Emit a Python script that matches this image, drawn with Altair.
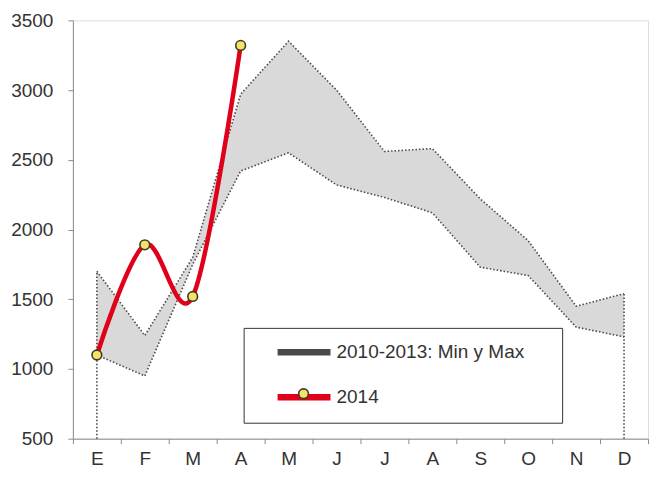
import json
import altair as alt
import pandas as pd

# ---------------- data ----------------
months = ["E", "F", "M", "A", "M", "J", "J", "A", "S", "O", "N", "D"]
band_max = [1700, 1240, 1800, 2970, 3350, 3000, 2560, 2580, 2220, 1920, 1450, 1540]
band_min = [1100, 950, 1750, 2420, 2550, 2320, 2230, 2120, 1730, 1670, 1300, 1230]
values_2014 = [1100, 1890, 1520, 3320]
label_band = "2010-2013: Min y Max"
label_2014 = "2014"
y_ticks = [500, 1000, 1500, 2000, 2500, 3000, 3500]

idx = list(range(len(months)))
band_df = pd.DataFrame({"i": idx, "lo": band_min, "hi": band_max})
border_df = pd.concat([
    pd.DataFrame({"i": idx, "v": band_max, "which": "max", "serie": label_band}),
    pd.DataFrame({"i": idx, "v": band_min, "which": "min", "serie": label_band}),
])
edge_df = pd.DataFrame({
    "i": [idx[0], idx[-1]],
    "floor": [y_ticks[0], y_ticks[0]],
    "top": [band_max[0], band_max[-1]],
})
line_df = pd.DataFrame({"i": idx[:len(values_2014)], "v": values_2014, "serie": label_2014})

FONT = "Liberation Sans"
AXIS_COLOR = "#8c8c8c"
TEXT_COLOR = "#333333"

x_enc = alt.X(
    "i:O",
    bandPosition=0.5,
    scale=alt.Scale(type="band", domain=idx, paddingInner=0, paddingOuter=0),
    axis=alt.Axis(
        title=None,
        labelExpr=json.dumps(months) + "[datum.value]",
        labelAngle=0,
        tickBand="extent",
        tickSize=5,
        labelPadding=6,
        grid=False,
        domainColor=AXIS_COLOR,
        tickColor=AXIS_COLOR,
        labelFontSize=19,
        labelColor=TEXT_COLOR,
        labelFont=FONT,
    ),
)
y_scale = alt.Scale(domain=[y_ticks[0], y_ticks[-1]], nice=False, zero=False)
y_axis = alt.Axis(
    title=None,
    values=y_ticks,
    format="d",
    grid=False,
    tickSize=5,
    labelPadding=15,
    domainColor=AXIS_COLOR,
    tickColor=AXIS_COLOR,
    labelFontSize=19,
    labelColor=TEXT_COLOR,
    labelFont=FONT,
)

color_scale = alt.Scale(domain=[label_band, label_2014], range=["#4a4a4a", "#e0001a"])
color_legend = alt.Legend(
    title="\u00a0",
    titleOrient="right",
    titlePadding=26,
    titleFontSize=19,
    orient="none",
    legendX=171,
    legendY=308,
    strokeColor="#333333",
    fillColor="white",
    padding=12,
    rowPadding=18,
    symbolType="M-3,0L3,0",
    symbolSize=312,
    symbolStrokeWidth=6.5,
    symbolDash=[1, 0],
    symbolOpacity=1,
    symbolOffset=36,
    labelOffset=20,
    labelLimit=400,
    labelFont=FONT,
    labelFontSize=19,
    labelColor=TEXT_COLOR,
)

area = alt.Chart(band_df).mark_area(color="#d9d9d9", opacity=1).encode(
    x=x_enc,
    y=alt.Y("hi:Q", scale=y_scale, axis=y_axis),
    y2="lo:Q",
)

borders = alt.Chart(border_df).mark_line(strokeDash=[1.5, 2], strokeWidth=1.6).encode(
    x=x_enc,
    y=alt.Y("v:Q", scale=y_scale, axis=y_axis),
    detail="which:N",
    color=alt.Color("serie:N", scale=color_scale, legend=color_legend),
)

edges = alt.Chart(edge_df).mark_rule(strokeDash=[1.5, 2], strokeWidth=1.6, color="#4a4a4a").encode(
    x=x_enc,
    y=alt.Y("floor:Q", scale=y_scale, axis=y_axis),
    y2="top:Q",
)

red = alt.Chart(line_df).mark_line(interpolate="cardinal", strokeWidth=4.5).encode(
    x=x_enc,
    y=alt.Y("v:Q", scale=y_scale, axis=y_axis),
    color=alt.Color("serie:N", scale=color_scale, legend=color_legend),
)

pts = alt.Chart(line_df).mark_point(filled=True, size=95, stroke="#3d3d1f", strokeWidth=1.6, opacity=1).encode(
    x=x_enc,
    y=alt.Y("v:Q", scale=y_scale, axis=y_axis),
    fill=alt.Fill(
        "serie:N",
        scale=alt.Scale(domain=[label_2014], range=["#f4e36b"]),
        legend=alt.Legend(
            title=None,
            orient="none",
            legendX=225,
            legendY=368,
            padding=0,
            symbolType="circle",
            symbolSize=95,
            symbolStrokeColor="#3d3d1f",
            symbolStrokeWidth=1.6,
            labelExpr="''",
            labelFontSize=1,
        ),
    ),
)

chart = alt.layer(area, borders, edges, red, pts).properties(
    width=576,
    height=419,
    padding={"left": 2, "top": 3, "right": 0, "bottom": 0},
).configure_view(strokeWidth=0).configure(font=FONT)

chart.save("out.html", embed_options={"renderer": "svg", "actions": False})
